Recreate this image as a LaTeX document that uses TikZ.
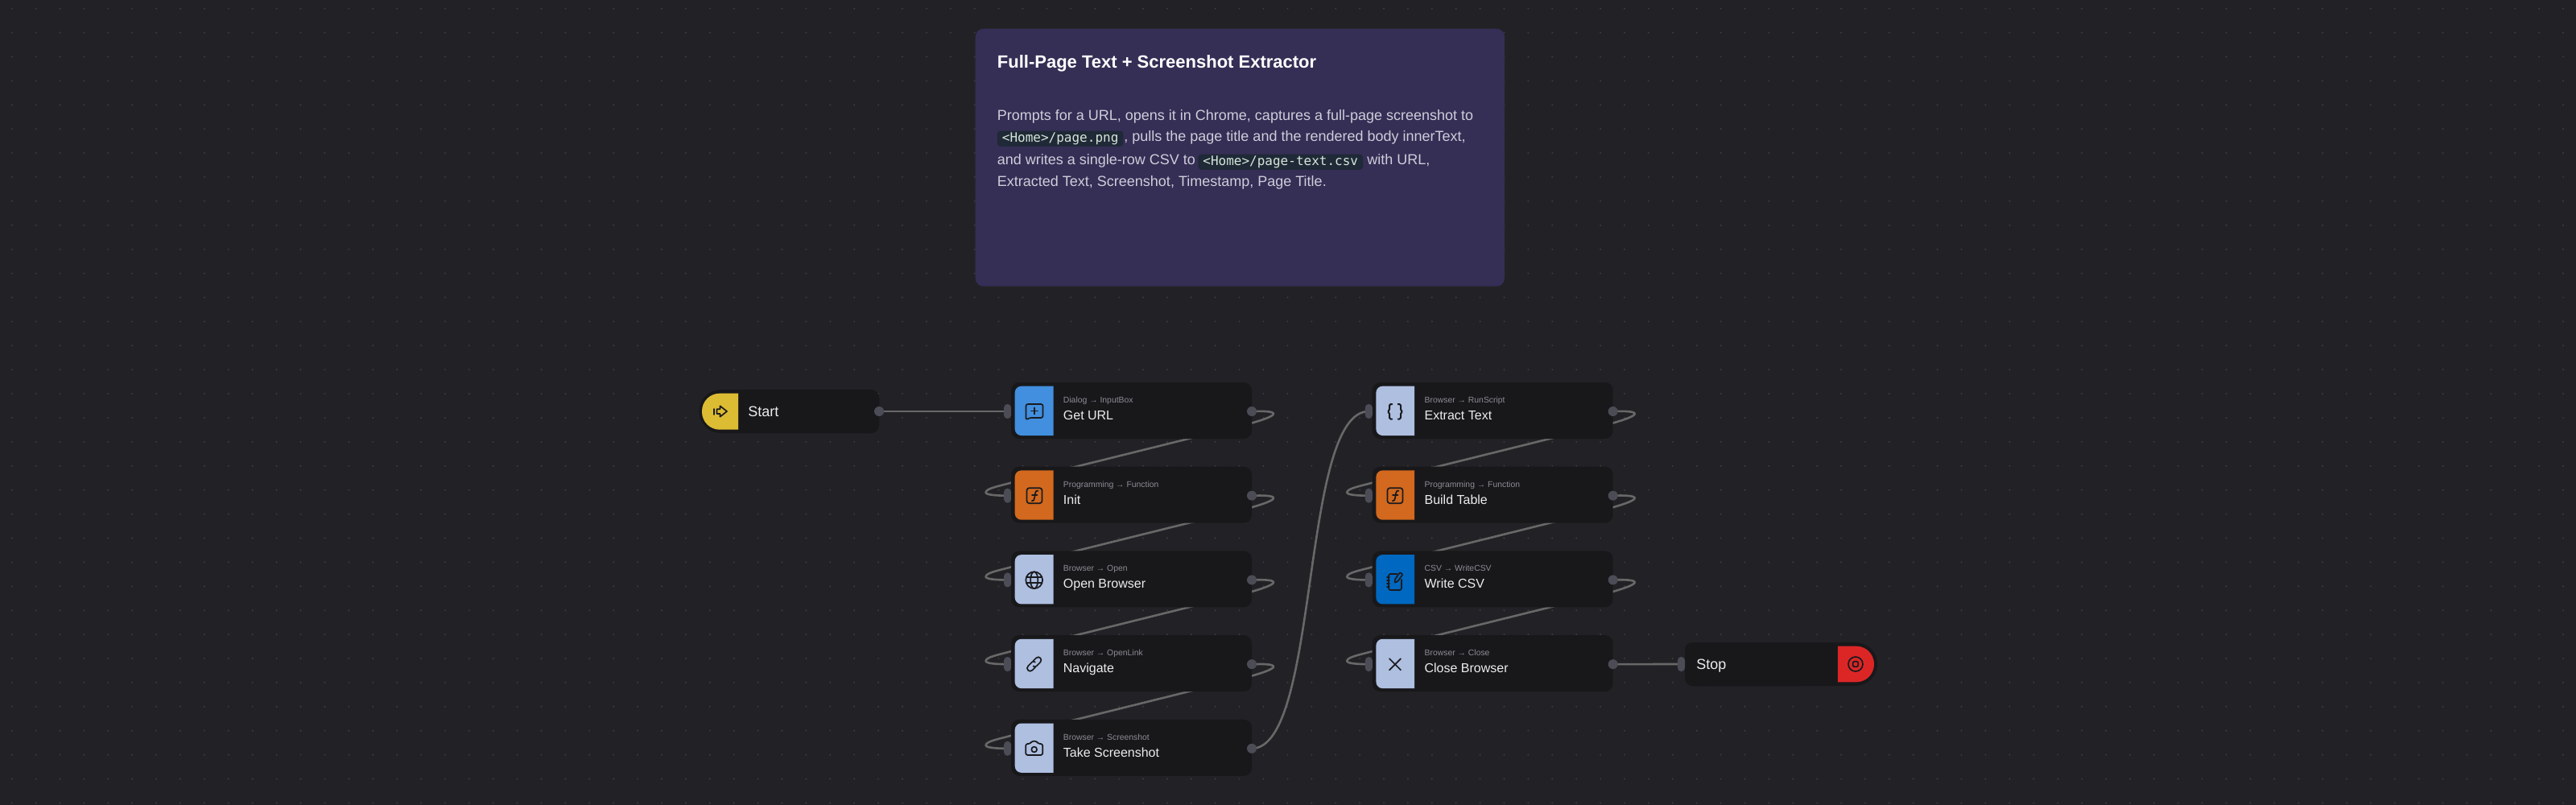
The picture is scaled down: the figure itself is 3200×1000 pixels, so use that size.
\documentclass[tikz,border=0pt]{standalone}
\usepackage{fontspec}
\setmainfont{Liberation Sans}
\newfontfamily\codefont{DejaVu Sans Mono}
\usetikzlibrary{calc}
\definecolor{canvasbg}{HTML}{222226}
\definecolor{griddot}{HTML}{3D3D41}
\definecolor{cardbg}{HTML}{352E55}
\definecolor{codebg}{HTML}{1F2937}
\definecolor{codeink}{HTML}{D4E6D8}
\definecolor{bodyink}{HTML}{CFCDDA}
\definecolor{nodebg}{HTML}{18181B}
\definecolor{subink}{HTML}{8C8C94}
\definecolor{titleink}{HTML}{ECECEC}
\definecolor{portfill}{HTML}{4C4C56}
\definecolor{wire}{HTML}{686868}
\definecolor{iconink}{HTML}{1A1A1E}
\definecolor{catblue}{HTML}{418FDE}
\definecolor{catorange}{HTML}{D2691E}
\definecolor{catbrowser}{HTML}{AEBFE0}
\definecolor{catcsv}{HTML}{0068C0}
\definecolor{catyellow}{HTML}{DCBC33}
\definecolor{catred}{HTML}{DC2626}
\pgfdeclarelayer{dotlayer}
\pgfdeclarelayer{edgelayer}
\pgfsetlayers{dotlayer,edgelayer,main}
\tikzset{
  x=0.5pt,y=-0.5pt,
  stepbody/.style={fill=nodebg,rounded corners=5pt,minimum width=149.5pt,minimum height=35pt,inner sep=0pt},
  subtext/.style={anchor=base west,inner sep=0pt,text=subink,font=\fontsize{5.2}{6}\selectfont},
  titletext/.style={anchor=base west,inner sep=0pt,text=titleink,font=\fontsize{8}{10}\selectfont},
  endtext/.style={anchor=base west,inner sep=0pt,text=titleink,font=\fontsize{9}{11}\selectfont},
  inport/.style={fill=portfill,rounded corners=2.2pt,minimum width=4.5pt,minimum height=9pt,inner sep=0pt},
  outport/.style={fill=portfill,circle,minimum size=6pt,inner sep=0pt},
  flow/.style={draw=wire,line width=1.3pt,line cap=round,line join=round},
  ico/.style={draw=iconink,line width=0.85pt,line join=round,line cap=round},
  notehead/.style={anchor=base west,inner sep=0pt,text=white,font=\bfseries\fontsize{11}{13}\selectfont},
  notebody/.style={anchor=base west,inner sep=0pt,text=bodyink,font=\fontsize{9}{11}\selectfont},
  codechip/.style={anchor=base west,fill=codebg,text=codeink,rounded corners=2pt,inner xsep=3pt,inner ysep=0pt,text height=7.2pt,text depth=2.4pt,font=\codefont\fontsize{8}{10}\selectfont},
}
\newcommand{\flowstep}[6]{%
  \node[stepbody] (#1) at (#2+149.5,#3+35) {};
  \fill[#4] (#2+52.5,#3+4.7) [rounded corners=4pt] -- (#2+4.7,#3+4.7) -- (#2+4.7,#3+66) [sharp corners] -- (#2+52.5,#3+66) -- cycle;
  \node[subtext] (#1-sub) at (#2+64.5,#3+25.5) {#5};
  \node[titletext] (#1-title) at (#2+64.5,#3+46.5) {#6};
  \node[inport] (#1-in) at (#2-4.4,#3+36) {};
  \node[outport] (#1-out) at (#2+299,#3+36) {};
}
\newcommand{\wrapedge}[2]{%
  \draw[flow] (#1.center) .. controls ($(#1.center)+(15,-0.5)$) and ($(#1.center)+(27,0)$) .. ($(#1.center)+(27,3)$)
    .. controls ($(#1.center)+(27,6)$) and ($(#1.center)+(14,10.5)$) .. ($(#1.center)+(0,14.5)$)
    -- ($(#2.center)+(4.4,-16)$)
    .. controls ($(#2.center)+(-10,-12)$) and ($(#2.center)+(-27,-9)$) .. ($(#2.center)+(-27,-4)$)
    .. controls ($(#2.center)+(-27,-1)$) and ($(#2.center)+(-15,0)$) .. (#2.center);
}
\begin{document}
\begin{tikzpicture}
\useasboundingbox (0,0) rectangle (3200,1000);
\begin{pgfonlayer}{dotlayer}
  \fill[canvasbg] (0,0) rectangle (3200,1000);
  \foreach \i in {0,...,106}{\foreach \j in {0,...,33}{
    \fill[griddot] (14.7+29.9*\i,10.7+29.9*\j) circle[radius=1.1];
  }}
\end{pgfonlayer}

% note
\fill[cardbg,rounded corners=5pt] (1211.7,35.7) rectangle (1869,355.7);
\node[notehead] (notetitle) at (1238.5,85) {Full-Page Text + Screenshot Extractor};
\node[notebody] (line1) at (1238.5,150) {Prompts for a URL, opens it in Chrome, captures a full-page screenshot to};
\node[codechip] (code1) at (1238.5,177) {<Home>/page.png};
\node[notebody] (line2) at (1396,176) {, pulls the page title and the rendered body innerText,};
\node[notebody] (line3a) at (1238.5,205) {and writes a single-row CSV to};
\node[codechip] (code2) at (1488,206) {<Home>/page-text.csv};
\node[notebody] (line3b) at (1698,205) {with URL,};
\node[notebody] (line4) at (1238.5,232) {Extracted Text, Screenshot, Timestamp, Page Title.};

% start
\fill[nodebg] (1092,484) [rounded corners=13.5pt] -- (868.4,484) -- (868.4,538) [rounded corners=5pt] -- (1092,538) -- cycle;
\fill[nodebg,rounded corners=5pt] (1060,484) rectangle (1092,538);
\fill[catyellow] (917,488.7) [rounded corners=11pt] -- (872,488.7) -- (872,533.7) [sharp corners] -- (917,533.7) -- cycle;
\node[endtext] (start) at (929,517) {Start};
\node[outport] (start-out) at (1092,511) {};
\draw[ico] (887.3,508) -- (887.3,515);
\draw[ico] (890.5,508.3) -- (894.5,508.3) -- (894.5,504.3) -- (903,511) -- (894.5,517.7) -- (894.5,514) -- (890.5,514) -- cycle;

% steps
\flowstep{geturl}{1256}{475}{catblue}{Dialog → InputBox}{Get URL}
\flowstep{init}{1256}{579.7}{catorange}{Programming → Function}{Init}
\flowstep{openb}{1256}{684.4}{catbrowser}{Browser → Open}{Open Browser}
\flowstep{navigate}{1256}{789.1}{catbrowser}{Browser → OpenLink}{Navigate}
\flowstep{shot}{1256}{893.8}{catbrowser}{Browser → Screenshot}{Take Screenshot}
\flowstep{extract}{1704.7}{475}{catbrowser}{Browser → RunScript}{Extract Text}
\flowstep{build}{1704.7}{579.7}{catorange}{Programming → Function}{Build Table}
\flowstep{writecsv}{1704.7}{684.4}{catcsv}{CSV → WriteCSV}{Write CSV}
\flowstep{closeb}{1704.7}{789.1}{catbrowser}{Browser → Close}{Close Browser}

% stop
\fill[nodebg] (2093,798) [rounded corners=5pt] -- (2093,852) [rounded corners=5pt] -- (2250,852) -- (2250,798) -- cycle;
\fill[nodebg] (2093,798) [rounded corners=13.5pt] -- (2332,798) -- (2332,852) [rounded corners=5pt] -- (2093,852) -- cycle;
\fill[nodebg,rounded corners=5pt] (2093,798) rectangle (2130,852);
\fill[catred] (2283,802.7) [rounded corners=11pt] -- (2328,802.7) -- (2328,847.3) [sharp corners] -- (2283,847.3) -- cycle;
\node[endtext] (stop) at (2107,831.7) {Stop};
\node[inport] (stop-in) at (2088.5,825) {};
\begin{scope}[shift={(2305,825)}]
  \draw[ico] (0,0) circle[radius=9];
  \draw[ico,rounded corners=0.6pt] (-3.2,-3.2) rectangle (3.2,3.2);
\end{scope}

% icons
\begin{scope}[shift={(1285,510.5)}]
  \draw[ico,rounded corners=1.2pt] (-10.5,11.2) -- (-10.5,-8.5) -- (10.5,-8.5) -- (10.5,8.5) -- (-6,8.5) -- cycle;
  \draw[ico] (-4,0) -- (4,0) (0,-4) -- (0,4);
\end{scope}
\foreach \cx in {1285,1733}{
\begin{scope}[shift={(\cx,615.7)}]
  \draw[ico,rounded corners=1.5pt] (-9.5,-9.5) rectangle (9.5,9.5);
  \draw[ico] (-3.2,6.5) .. controls (-1,7) and (-0.4,5.5) .. (0,3) -- (1,-3) .. controls (1.4,-5.5) and (2.5,-6.7) .. (4.5,-6);
  \draw[ico] (-3,-0.5) -- (3.5,-0.5);
\end{scope}}
\begin{scope}[shift={(1284.7,720.7)}]
  \draw[ico] (0,0) circle[radius=10.4];
  \draw[ico] (0,0) ellipse[x radius=4.6,y radius=10.4];
  \draw[ico] (-9.5,-3.5) -- (9.5,-3.5) (-9.5,3.5) -- (9.5,3.5);
\end{scope}
\begin{scope}[shift={(1284.7,825)},rotate=45]
  \draw[ico] (2.5,-0.8) .. controls (2.5,-3) and (1.5,-3.7) .. (0,-3.7) -- (-7,-3.7) .. controls (-12,-3.7) and (-12,3.7) .. (-7,3.7) -- (-2,3.7);
  \draw[ico] (-2.5,0.8) .. controls (-2.5,3) and (-1.5,3.7) .. (0,3.7) -- (7,3.7) .. controls (12,3.7) and (12,-3.7) .. (7,-3.7) -- (2,-3.7);
\end{scope}
\begin{scope}[shift={(1284.7,930)}]
  \draw[ico,rounded corners=1.2pt] (-10.5,8) -- (-10.5,-6) -- (-5,-6) -- (-3,-9.3) -- (3,-9.3) -- (5,-6) -- (10.5,-6) -- (10.5,8) -- cycle;
  \draw[ico] (0,1) circle[radius=3.4];
\end{scope}
\begin{scope}[shift={(1733,511.3)}]
  \draw[ico,rounded corners=0.8pt,line width=1pt] (-3.7,-9.3) -- (-7,-9.3) -- (-7,-1.2) -- (-9.6,0) -- (-7,1.2) -- (-7,9.3) -- (-3.7,9.3);
  \draw[ico,rounded corners=0.8pt,line width=1pt] (3.7,-9.3) -- (7,-9.3) -- (7,-1.2) -- (9.6,0) -- (7,1.2) -- (7,9.3) -- (3.7,9.3);
\end{scope}
\begin{scope}[shift={(1733,720)}]
  \draw[ico,rounded corners=1.2pt] (2.5,-7) -- (-8,-7) -- (-8,13) -- (8,13) -- (8,0);
  \draw[ico] (-10,-3) -- (-7,-3) (-10,1) -- (-7,1) (-10,5) -- (-7,5) (-10,9) -- (-7,9);
  \draw[ico,rounded corners=0.5pt] (-0.5,4) -- (0,-0.5) -- (6,-9) -- (9.5,-6.5) -- (3.5,2) -- cycle;
\end{scope}
\begin{scope}[shift={(1733,825.3)}]
  \draw[ico] (-7,-7) -- (7,7) (7,-7) -- (-7,7);
\end{scope}

% connectors
\begin{pgfonlayer}{edgelayer}
  \draw[flow] (start-out.center) -- (geturl-in.center);
  \wrapedge{geturl-out}{init-in}
  \wrapedge{init-out}{openb-in}
  \wrapedge{openb-out}{navigate-in}
  \wrapedge{navigate-out}{shot-in}
  \draw[flow] (shot-out.center) .. controls (1640,929.8) and (1615,511) .. (extract-in.center);
  \wrapedge{extract-out}{build-in}
  \wrapedge{build-out}{writecsv-in}
  \wrapedge{writecsv-out}{closeb-in}
  \draw[flow] (closeb-out.center) -- (stop-in.center);
\end{pgfonlayer}
\end{tikzpicture}
\end{document}
